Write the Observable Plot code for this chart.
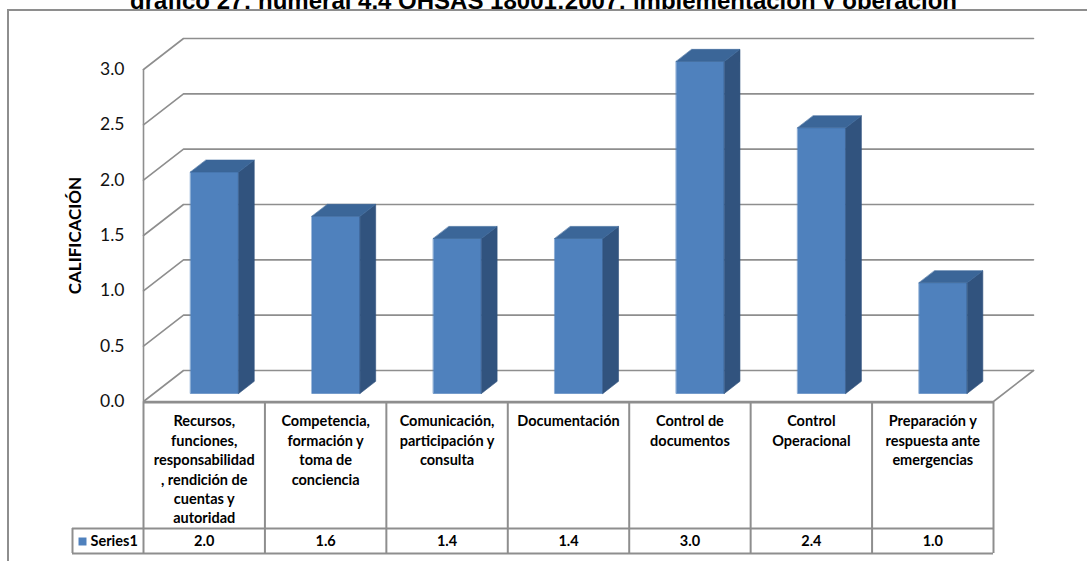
<!DOCTYPE html>
<html>
<head>
<meta charset="utf-8">
<script src="https://cdn.jsdelivr.net/npm/d3@7"></script>
<script src="https://cdn.jsdelivr.net/npm/@observablehq/plot@0.6"></script>
<style>
  html, body { margin: 0; padding: 0; background: #fff; overflow: hidden; }
  #wrap { position: relative; width: 1087px; height: 561px; overflow: hidden; background: #fff; }
  #titlebox { position: absolute; left: 0; top: 0; width: 1087px; height: 9px; overflow: hidden; }
  #title { position: absolute; left: 0; width: 1087px; top: -13px; line-height: 24px; text-align: center;
           font: bold 24px "Liberation Sans", Arial, sans-serif; color: #000; white-space: nowrap; }
  #frame { position: absolute; left: 7px; top: 9px; width: 1100px; height: 600px;
           border-left: 2px solid #8e8e8e; border-top: 2px solid #8e8e8e; }
  #chart { position: absolute; left: 0; top: 0; }
</style>
</head>
<body>
<div id="wrap">
  <div id="titlebox"><div id="title">gráfico 27: numeral 4.4 OHSAS 18001:2007: implementación y operación</div></div>
  <div id="frame"></div>
  <div id="chart"></div>
</div>
<script>
// Categories (data-table headers), one score per category
const categories = [
  "Recursos,\nfunciones,\nresponsabilidad\n, rendición de\ncuentas y\nautoridad",
  "Competencia,\nformación y\ntoma de\nconciencia",
  "Comunicación,\nparticipación y\nconsulta",
  "Documentación",
  "Control de\ndocumentos",
  "Control\nOperacional",
  "Preparación y\nrespuesta ante\nemergencias"
];
const values = [2.0, 1.6, 1.4, 1.4, 3.0, 2.4, 1.0];
const seriesName = "Series1";
const yTicks = [0, 0.5, 1.0, 1.5, 2.0, 2.5, 3.0];
const yLabel = "CALIFICACIÓN";

// Plot frame (front plane of the 3-D box)
const W = 1087, H = 561;
const margin = {top: 69, right: 94, bottom: 160, left: 143};
const n = categories.length;
const yMax = 3;
const pxPerX = (W - margin.left - margin.right) / n;
const pxPerY = (H - margin.top - margin.bottom) / yMax;

// Oblique depth of the box, expressed in scale units
const DEPTH_X = 40 / pxPerX;
const DEPTH_Y = 31 / pxPerY;
const BAR_HALF = 0.198;     // half bar width (category units)
const W0 = 0.26, W1 = 0.65; // bar front / back depth (0 = front, 1 = back wall)

const P = (u, v, w) => ({x: u + w * DEPTH_X, y: v + w * DEPTH_Y});

// Walls and gridlines: side wall slant + back wall horizontal
const grid = yTicks.flatMap((t) => [P(0, t, 0), P(0, t, 1), P(n, t, 1)].map((p) => ({...p, id: t})));
const floorEdge = [P(0, 0, 0), P(n, 0, 0), P(n, 0, 1)].map((p) => ({...p, id: "floor"}));

// Bar faces
const fronts = [], sides = [], tops = [];
values.forEach((v, i) => {
  const c = i + 0.5, a = c - BAR_HALF, b = c + BAR_HALF;
  fronts.push(...[P(a, 0, W0), P(b, 0, W0), P(b, v, W0), P(a, v, W0)].map((p) => ({...p, id: i})));
  sides.push(...[P(b, 0, W0), P(b, 0, W1), P(b, v, W1), P(b, v, W0)].map((p) => ({...p, id: i})));
  tops.push(...[P(a, v, W0), P(b, v, W0), P(b, v, W1), P(a, v, W1)].map((p) => ({...p, id: i})));
});

const gray = "#8e8e8e";
const face = (data, color) => Plot.line(data, {x: "x", y: "y", z: "id", curve: "linear-closed",
  fill: color, stroke: color, strokeWidth: 0.6});

// data table: header row height and values row height (px)
const HEADER_H = 127, ROW_H = 25, LEGEND_W = 71;

const chart = Plot.plot({
  width: W, height: H,
  marginTop: margin.top, marginRight: margin.right, marginBottom: margin.bottom, marginLeft: margin.left,
  x: {domain: [0, n], axis: null},
  y: {domain: [0, yMax], axis: null},
  style: {fontFamily: "Lato, 'Open Sans', sans-serif", color: "#111", background: "transparent", overflow: "visible"},
  marks: [
    // gridlines on walls
    Plot.line(grid, {x: "x", y: "y", z: "id", stroke: gray, strokeWidth: 1.6}),
    Plot.line(floorEdge, {x: "x", y: "y", z: "id", stroke: gray, strokeWidth: 1.6}),
    // vertical axis edge
    Plot.ruleX([0], {x: 0, y1: yMax, y2: 0, stroke: gray, strokeWidth: 1.6}),
    // y axis
    Plot.axisY(yTicks, {tickFormat: (d) => d.toFixed(1), tickSize: 0, tickPadding: 19, fontSize: 17.5, label: null, fill: "#111"}),
    Plot.text([yLabel], {frameAnchor: "left", textAnchor: "middle", dx: -68, rotate: -90, fontSize: 17, fontWeight: "bold", fill: "#000"}),
    // bars
    face(fronts, "#4f81bd"),
    face(sides, "#31537e"),
    face(tops, "#3b6698"),
    // data table grid
    Plot.ruleX(d3.range(n + 1), {x: (d) => d, y1: 0, y2: 0, insetTop: 1, insetBottom: -(HEADER_H + ROW_H), stroke: gray, strokeWidth: 2}),
    Plot.ruleX([0], {x: 0, y1: 0, y2: 0, dx: -LEGEND_W, insetTop: HEADER_H, insetBottom: -(HEADER_H + ROW_H), stroke: gray, strokeWidth: 2}),
    Plot.ruleY([0], {x1: 0, x2: n, dy: 1, stroke: gray, strokeWidth: 2}),
    Plot.ruleY([0], {x1: 0, x2: n, dy: HEADER_H, insetLeft: -LEGEND_W, stroke: gray, strokeWidth: 2}),
    Plot.ruleY([0], {x1: 0, x2: n, dy: HEADER_H + ROW_H, insetLeft: -LEGEND_W, stroke: gray, strokeWidth: 2}),
    // category headers
    Plot.text(categories, {x: (d, i) => i + 0.5, y: 0, dy: 11, lineAnchor: "top", lineHeight: 1.34,
      fontSize: 14.5, fontWeight: "bold", fill: "#000"}),
    // values row
    Plot.text(values, {x: (d, i) => i + 0.5, y: 0, dy: HEADER_H + 13, text: (d) => d.toFixed(1),
      fontSize: 14.5, fontWeight: "bold", fill: "#000"}),
    // series legend cell
    Plot.dot([seriesName], {x: 0, y: 0, dx: -61, dy: HEADER_H + 13, symbol: "square", r: 4.5, fill: "#4f81bd", stroke: "none"}),
    Plot.text([seriesName], {x: 0, y: 0, dx: -53, dy: HEADER_H + 13, text: (d) => d, textAnchor: "start",
      fontSize: 14.5, fontWeight: "bold", fill: "#000"})
  ]
});

document.getElementById("chart").append(chart);
</script>
</body>
</html>
